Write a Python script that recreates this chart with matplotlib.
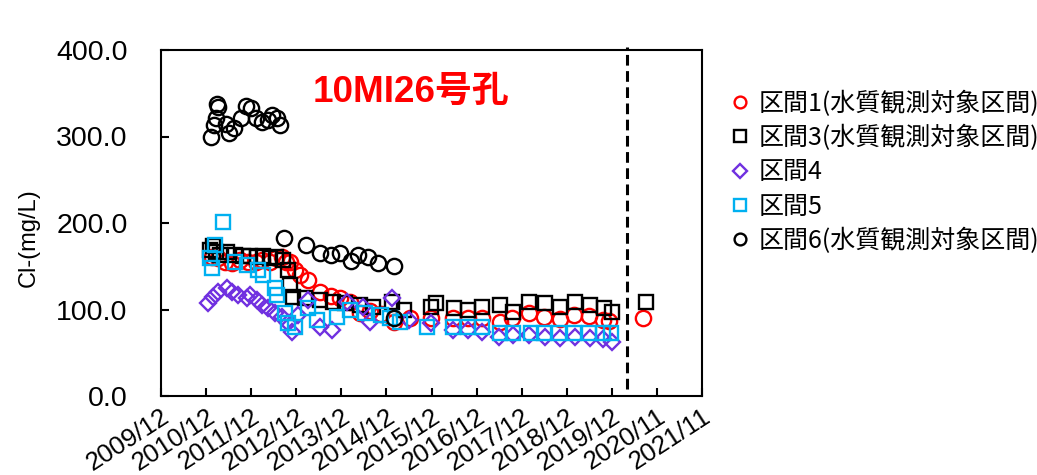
import matplotlib
matplotlib.use("Agg")
import matplotlib.pyplot as plt
import matplotlib.transforms as mtransforms
from matplotlib.lines import Line2D

# x は年の小数表記 (2009.92 = 2009/12)
tick_pos = [2009.92 + i for i in range(13)]
tick_labels = ['2009/12', '2010/12', '2011/12', '2012/12', '2013/12', '2014/12', '2015/12',
	'2016/12', '2017/12', '2018/12', '2019/12', '2020/11', '2021/11']
backfill_start = 2020.25

# 区間1 (赤丸)
s1_x = [2011.05, 2011.19, 2011.34, 2011.50, 2011.68, 2011.85, 2012.03, 2012.16, 2012.34, 2012.48,
	2012.61, 2012.70, 2012.79, 2012.90, 2013.01, 2013.19, 2013.45, 2013.68, 2013.90, 2014.12,
	2014.34, 2014.56, 2014.79, 2015.08, 2015.45, 2015.90, 2016.39, 2016.72, 2017.05, 2017.43,
	2017.70, 2018.08, 2018.41, 2018.76, 2019.08, 2019.41, 2019.72, 2019.85, 2020.61]
s1_y = [161, 160, 155, 154, 157, 155, 155, 157, 155, 160,
	161, 155, 155, 146, 140, 134, 120, 116, 113, 109,
	96, 98, 95, 86, 90, 90, 90, 90, 90, 86,
	90, 96, 91, 89, 94, 92, 88, 87, 90]

# 区間3 (黒四角)
s3_x = [2011.01, 2011.08, 2011.14, 2011.23, 2011.39, 2011.56, 2011.74, 2011.90, 2012.05, 2012.19,
	2012.34, 2012.48, 2012.63, 2012.74, 2012.79, 2012.85, 2013.12, 2013.45, 2013.74, 2014.01,
	2014.34, 2014.63, 2015.05, 2015.30, 2015.90, 2016.01, 2016.41, 2016.72, 2017.05, 2017.45,
	2017.72, 2018.08, 2018.43, 2018.76, 2019.10, 2019.43, 2019.74, 2019.92, 2020.68]
s3_y = [169, 173, 166, 163, 166, 163, 162, 162, 161, 162,
	160, 161, 157, 146, 128, 114, 113, 111, 109, 108,
	105, 103, 109, 99, 103, 107, 102, 99, 103, 105,
	97, 109, 107, 103, 109, 105, 102, 97, 109]

# 区間4 (紫ひし形)
s4_x = [2010.96, 2011.08, 2011.19, 2011.39, 2011.50, 2011.63, 2011.83, 2011.90, 2012.05, 2012.16,
	2012.30, 2012.45, 2012.61, 2012.74, 2012.83, 2012.96, 2013.19, 2013.45, 2013.72, 2014.05,
	2014.39, 2014.56, 2015.05, 2015.41, 2015.90, 2016.39, 2016.72, 2017.05, 2017.41, 2017.72,
	2018.08, 2018.43, 2018.76, 2019.10, 2019.43, 2019.72, 2019.92]
s4_y = [108, 114, 120, 125, 120, 117, 113, 117, 111, 105,
	102, 96, 91, 84, 74, 94, 111, 80, 76, 109,
	103, 86, 113, 88, 84, 76, 76, 74, 68, 70,
	70, 68, 67, 68, 67, 66, 62]

# 区間5 (水色四角)
s5_x = [2011.01, 2011.05, 2011.12, 2011.30, 2011.56, 2011.83, 2012.08, 2012.19, 2012.45, 2012.50,
	2012.68, 2012.74, 2012.90, 2013.19, 2013.39, 2013.83, 2014.12, 2014.45, 2014.79, 2015.01,
	2015.23, 2015.83, 2016.39, 2016.72, 2017.05, 2017.45, 2017.72, 2018.12, 2018.41, 2018.74,
	2019.08, 2019.41, 2019.72, 2019.90]
s5_y = [160, 148, 175, 201, 155, 151, 146, 140, 125, 117,
	96, 84, 80, 102, 88, 91, 99, 96, 94, 90,
	86, 80, 80, 80, 80, 73, 73, 73, 73, 73,
	73, 73, 73, 73]

# 区間6 (黒丸)
s6_x = [2011.03, 2011.10, 2011.14, 2011.16, 2011.19, 2011.36, 2011.43, 2011.54, 2011.70, 2011.81,
	2011.92, 2012.03, 2012.16, 2012.30, 2012.39, 2012.50, 2012.56, 2012.65, 2013.14, 2013.45,
	2013.68, 2013.90, 2014.14, 2014.30, 2014.52, 2014.74, 2015.08, 2015.08]
s6_y = [299, 313, 321, 338, 334, 314, 304, 310, 321, 335,
	333, 321, 317, 319, 325, 321, 313, 183, 175, 165,
	163, 165, 156, 163, 161, 154, 150, 90]

plt.rcParams['font.family'] = ['Liberation Sans', 'Noto Sans CJK JP']

fig = plt.figure(figsize=(10.37, 4.75), dpi=100)
ax = fig.add_axes([161/1037, 79/475, 541/1037, 346/475])

mk = dict(linestyle='none', markerfacecolor='none', markeredgewidth=1.7)
ax.plot(s1_x, s1_y, marker='o', markersize=11, markeredgecolor='#ff0000', **mk)
ax.plot(s3_x, s3_y, marker='s', markersize=10.5, markeredgecolor='black', **mk)
ax.plot(s4_x, s4_y, marker='D', markersize=8, markeredgecolor='#7030e0', **mk)
ax.plot(s5_x, s5_y, marker='s', markersize=10.5, markeredgecolor='#00b0f0', **mk)
ax.plot(s6_x, s6_y, marker='o', markersize=11, markeredgecolor='black', **mk)

ax.axvline(backfill_start, ymin=0.02, ymax=1.01, color='black', lw=2.2,
	linestyle=(0, (3.5, 1.8)), clip_on=False)

ax.set_xlim(tick_pos[0], tick_pos[-1])
ax.set_ylim(0, 400)
ax.set_xticks(tick_pos)
ax.set_xticklabels(tick_labels, rotation=33, ha='right', rotation_mode='anchor', fontsize=18.5)
# ラベルを少し左へずらす
shift = mtransforms.ScaledTranslation(-6/100, 0, fig.dpi_scale_trans)
for lab in ax.get_xticklabels():
	lab.set_transform(lab.get_transform() + shift)
ax.set_yticks([0, 100, 200, 300, 400])
ax.set_yticklabels(['%.1f' % v for v in [0, 100, 200, 300, 400]], fontsize=20.5)
ax.tick_params(axis='both', direction='in', length=6, width=1.5)
ax.tick_params(axis='y', pad=24)
ax.tick_params(axis='x', pad=6)
for sp in ax.spines.values():
	sp.set_linewidth(1.5)

fig.text(29/1037, 1 - 238/475, 'Cl-(mg/L)', rotation=90, ha='center', va='center', fontsize=17)
fig.text(411/1037, 1 - 92/475, '10MI26号孔', color='#ff0000', fontsize=26.5, fontweight='bold',
	ha='center', va='center')

ax.annotate('埋め戻し開始', xy=(backfill_start, 401), xycoords='data',
	xytext=(655, 453), textcoords='figure pixels', ha='left', va='center',
	fontsize=22, fontweight='bold', family=['Noto Sans CJK JP'],
	arrowprops=dict(arrowstyle='->', lw=1.3, color='black', shrinkA=2, shrinkB=0))

handles = [
	Line2D([], [], marker='o', markersize=8.5, markeredgecolor='#ff0000', **mk),
	Line2D([], [], marker='s', markersize=8.5, markeredgecolor='black', **mk),
	Line2D([], [], marker='D', markersize=7, markeredgecolor='#7030e0', **mk),
	Line2D([], [], marker='s', markersize=8.5, markeredgecolor='#00b0f0', **mk),
	Line2D([], [], marker='o', markersize=8.5, markeredgecolor='black', **mk),
]
labels = ['区間1(水質観測対象区間)', '区間3(水質観測対象区間)', '区間4', '区間5', '区間6(水質観測対象区間)']
fig.legend(handles, labels, loc='upper left', bbox_to_anchor=(712/1037, 1 - 73/475),
	frameon=False, handlelength=0.8, handletextpad=0.35, labelspacing=0.33,
	borderpad=0.2, prop={'family': ['Noto Sans CJK JP'], 'size': 18})

fig.savefig('out.png', dpi=100)
